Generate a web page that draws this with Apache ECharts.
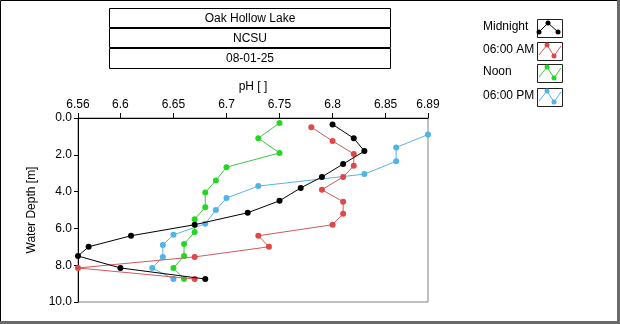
<!DOCTYPE html>
<html>
<head>
<meta charset="utf-8">
<script src="https://cdn.jsdelivr.net/npm/echarts@6/dist/echarts.min.js"></script>
<style>
html,body{margin:0;padding:0;background:#fff;}
#c{width:620px;height:324px;}
</style>
</head>
<body>
<div id="c"></div>
<script>
// ---- data ----
var titleLines = ['Oak Hollow Lake', 'NCSU', '08-01-25'];
var seriesNames = ['Midnight', '06:00 AM', 'Noon', '06:00 PM'];
var xTicks = [6.56, 6.6, 6.65, 6.7, 6.75, 6.8, 6.85, 6.89];

var midnightPH    = [6.80, 6.82, 6.83, 6.81, 6.79, 6.77, 6.75, 6.72, 6.67, 6.61, 6.57, 6.56, 6.60, 6.68];
var midnightDepth = [0.35, 1.1, 1.8, 2.5, 3.2, 3.8, 4.5, 5.15, 5.8, 6.4, 7.0, 7.5, 8.15, 8.75];
var amPH          = [6.78, 6.80, 6.82, 6.82, 6.81, 6.79, 6.81, 6.81, 6.80, 6.73, 6.74, 6.67, 6.56, 6.67];
var amDepth       = [0.5, 1.25, 1.95, 2.6, 3.2, 3.9, 4.55, 5.2, 5.8, 6.4, 7.0, 7.55, 8.15, 8.75];
var noonPH        = [6.75, 6.73, 6.75, 6.70, 6.69, 6.68, 6.68, 6.67, 6.67, 6.66, 6.66, 6.65, 6.66];
var noonDepth     = [0.27, 1.1, 1.9, 2.67, 3.4, 4.05, 4.85, 5.5, 6.2, 6.85, 7.5, 8.15, 8.75];
var pmPH          = [6.89, 6.86, 6.86, 6.83, 6.73, 6.70, 6.69, 6.68, 6.65, 6.64, 6.64, 6.63, 6.65];
var pmDepth       = [0.9, 1.6, 2.35, 3.05, 3.7, 4.35, 5.0, 5.75, 6.35, 6.9, 7.55, 8.15, 8.75];

var colors = ['#000000', '#e04848', '#22d822', '#50b4e8'];
var lineColors = ['#000000', '#d05a5a', '#3cc83c', '#5ab4e0'];
var FONT = 'Liberation Sans';

function pairs(xs, ys) { return xs.map(function (x, i) { return [x, ys[i]]; }); }
var allData = [pairs(midnightPH, midnightDepth), pairs(amPH, amDepth), pairs(noonPH, noonDepth), pairs(pmPH, pmDepth)];

var chart = echarts.init(document.getElementById('c'), null, {renderer: 'canvas'});

var graphics = [];
// outer frame
graphics.push({type: 'rect', shape: {x: 0.5, y: 0.5, width: 617, height: 321}, style: {fill: 'none', stroke: '#000', lineWidth: 1}, silent: true});
graphics.push({type: 'line', shape: {x1: 618.5, y1: 0, x2: 618.5, y2: 324}, style: {stroke: '#6a6a6a', lineWidth: 3}, silent: true});
graphics.push({type: 'line', shape: {x1: 0, y1: 322.5, x2: 620, y2: 322.5}, style: {stroke: '#6a6a6a', lineWidth: 3}, silent: true});
// title boxes (three stacked boxes, each with its own border)
var boxTops = [8, 28, 48];
var boxHeights = [19, 19, 20];
titleLines.forEach(function (t, i) {
  var y = boxTops[i];
  graphics.push({type: 'rect', shape: {x: 109.5, y: y + 0.5, width: 281, height: boxHeights[i]}, style: {fill: '#fff', stroke: '#000', lineWidth: 1}, silent: true});
  graphics.push({type: 'text', x: 250, y: y + 10.5, style: {text: t, fill: '#000', font: '12px "' + FONT + '"', align: 'center', verticalAlign: 'middle'}, silent: true});
});
// legend
var legTextY = [27, 50, 72, 96];
seriesNames.forEach(function (n, i) {
  var by = legTextY[i] - 8;
  graphics.push({type: 'text', x: 483, y: legTextY[i], style: {text: n, fill: '#000', font: '12px "' + FONT + '"', align: 'left', verticalAlign: 'middle'}, silent: true});
  graphics.push({type: 'rect', shape: {x: 537.5, y: by + 0.5, width: 25, height: 18}, style: {fill: '#fff', stroke: '#222', lineWidth: 1}, silent: true});
  var pts, marks;
  if (i === 0) {
    pts = [[539, by + 13], [548, by + 4], [558, by + 13]];
    marks = pts;
  } else {
    pts = [[539, by + 13], [547, by + 3], [554, by + 14], [561, by + 4]];
    marks = [pts[1], pts[2]];
  }
  graphics.push({type: 'polyline', shape: {points: pts}, style: {stroke: lineColors[i], lineWidth: 1, fill: 'none'}, silent: true});
  marks.forEach(function (p) {
    graphics.push({type: 'circle', shape: {cx: p[0], cy: p[1], r: 2.5}, style: {fill: colors[i]}, silent: true});
  });
});

var series = allData.map(function (d, i) {
  return {
    name: seriesNames[i],
    type: 'line',
    data: d,
    symbol: 'circle',
    symbolSize: 6,
    showAllSymbol: true,
    clip: true,
    z: 10 - i,
    lineStyle: {color: lineColors[i], width: 1},
    itemStyle: {color: colors[i]},
    animation: false
  };
});

chart.setOption({
  animation: false,
  backgroundColor: '#fff',
  textStyle: {fontFamily: FONT},
  grid: {left: 78, top: 118, width: 350, height: 184, show: true, borderColor: '#808080', borderWidth: 1, backgroundColor: '#fff'},
  xAxis: {
    type: 'value', position: 'top', min: 6.56, max: 6.89,
    name: 'pH [ ]', nameLocation: 'middle', nameGap: 25,
    nameTextStyle: {color: '#000', fontSize: 12, fontFamily: FONT},
    axisLine: {show: true, lineStyle: {color: '#000', width: 1}},
    axisTick: {show: true, length: 5, lineStyle: {color: '#000'}, customValues: xTicks},
    axisLabel: {color: '#000', fontSize: 12, fontFamily: FONT, margin: 7, customValues: xTicks,
      formatter: function (v) { return String(+(+v).toFixed(2)); }},
    splitLine: {show: false}
  },
  yAxis: {
    type: 'value', inverse: true, min: 0, max: 10, interval: 2,
    name: 'Water Depth [m]', nameLocation: 'middle', nameGap: 25, nameRotate: 90,
    nameTextStyle: {color: '#000', fontSize: 12, fontFamily: FONT},
    axisLine: {show: true, lineStyle: {color: '#000', width: 1}},
    axisTick: {show: true, length: 4, lineStyle: {color: '#000'}},
    axisLabel: {color: '#000', fontSize: 12, fontFamily: FONT, margin: 6,
      formatter: function (v) { return (+v).toFixed(1); }},
    splitLine: {show: false}
  },
  graphic: graphics,
  series: series
});
</script>
</body>
</html>
